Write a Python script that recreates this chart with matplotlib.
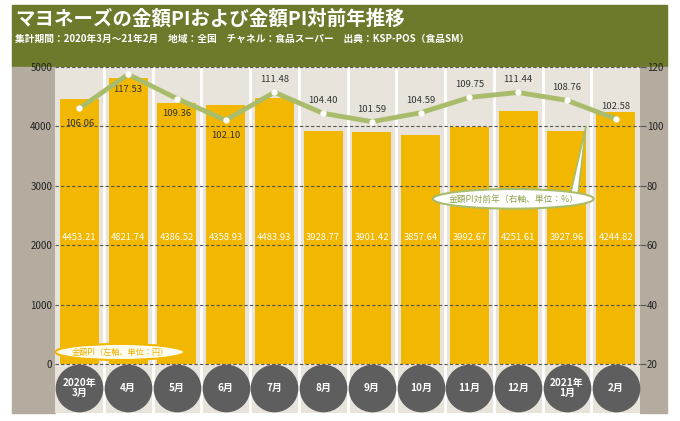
import matplotlib.pyplot as plt
from matplotlib.patches import Rectangle, Ellipse

plt.rcParams['font.family'] = ['Noto Sans CJK JP', 'DejaVu Sans']

# data
months = ['2020年\n3月', '4月', '5月', '6月', '7月', '8月', '9月',
          '10月', '11月', '12月', '2021年\n1月', '2月']
amount_pi = [4453.21, 4821.74, 4386.52, 4358.93, 4483.93, 3928.77,
             3901.42, 3857.64, 3992.67, 4251.61, 3927.96, 4244.82]
yoy = [106.06, 117.53, 109.36, 102.10, 111.48, 104.40,
       101.59, 104.59, 109.75, 111.44, 108.76, 102.58]
left_ticks = [0, 1000, 2000, 3000, 4000, 5000]
right_ticks = [20, 40, 60, 80, 100, 120]
label_side = [-1, -1, -1, -1, 1, 1, 1, 1, 1, 1, 1, 1]

W, H = 680, 421
fig = plt.figure(figsize=(W / 100, H / 100), dpi=100)


def box(x0, y0, x1, y1):
    return [x0 / W, 1 - y1 / H, (x1 - x0) / W, (y1 - y0) / H]


def rect(x0, y0, x1, y1, color):
    l, b, w, h = box(x0, y0, x1, y1)
    fig.add_artist(Rectangle((l, b), w, h, transform=fig.transFigure,
                             color=color, zorder=0))


# header band and side strips
rect(12, 5, 667, 67, '#6d7a2c')
rect(12, 67, 55, 413, '#b4ac9e')
rect(640, 67, 667, 413, '#b4ac9e')

fig.text(15 / W, 1 - 19 / H, 'マヨネーズの金額PIおよび金額PI対前年推移',
         color='white', fontsize=14, fontweight='bold', va='center')
fig.text(15 / W, 1 - 39 / H,
         '集計期間：2020年3月～21年2月　地域：全国　チャネル：食品スーパー　出典：KSP-POS（食品SM）',
         color='white', fontsize=7, fontweight='bold', va='center')

ax = fig.add_axes(box(55, 67, 640, 413))
x = list(range(len(months)))
ax.set_xlim(-0.5, 11.5)
ax.set_ylim(-825, 5000)
ax.set_facecolor('#e8e4dc')
for s in ax.spines.values():
    s.set_visible(False)
ax.set_xticks([])
ax.set_yticks(left_ticks)
ax.tick_params(axis='y', length=0, pad=2, labelsize=7, labelcolor='#222222')

for i in range(11):
    ax.axvline(i + 0.5, color='white', lw=2, zorder=1)

ax.bar(x, amount_pi, width=0.8, color='#f2b700', zorder=2)
for t in left_ticks:
    ax.axhline(t, color='#555555', lw=0.8, ls=(0, (3, 2)), zorder=3)

for i, v in enumerate(amount_pi):
    ax.text(i, 2130, f'{v:.2f}', ha='center', va='center', color='white',
            fontsize=6.8, zorder=4)

ax.scatter(x, [-404] * len(x), s=1180, color='#5e5e5e', clip_on=False,
           zorder=4, linewidths=0)
for i, m in enumerate(months):
    ax.text(i, -404, m, ha='center', va='center', color='white',
            fontsize=7.2, fontweight='bold', linespacing=0.95, zorder=5)

# callout for the line (right axis)
ax.annotate('', xy=(10.39, 4000), xytext=(10.15, 2850), zorder=6,
            arrowprops=dict(arrowstyle='wedge,tail_width=0.55,shrink_factor=0.5',
                            fc='white', ec='#a9bc6c', lw=1.2,
                            shrinkA=0, shrinkB=0))
ax.add_patch(Ellipse((8.9, 2780), 3.3, 330, fc='white', ec='#a9bc6c',
                     lw=1.5, zorder=7))
ax.text(8.9, 2780, '金額PI対前年（右軸、単位：%）', ha='center', va='center',
        color='#8ea34a', fontsize=6.3, zorder=8)

# callout for the bars (left axis)
ax.add_patch(Ellipse((0.83, 202), 2.65, 270, fc='#fffdf0', ec='#f2b700',
                     lw=1.5, zorder=7))
ax.text(0.83, 202, '金額PI（左軸、単位：円）', ha='center', va='center',
        color='#e9b100', fontsize=5.9, zorder=8)

ax2 = ax.twinx()
ax2.set_ylim(20 - 825 / 50, 120)
ax2.patch.set_visible(False)
for s in ax2.spines.values():
    s.set_visible(False)
ax2.set_yticks(right_ticks)
ax2.tick_params(axis='y', length=4, width=0.8, color='#555555', pad=1,
                labelsize=7, labelcolor='#222222')
ax2.plot(x, yoy, color='#a9bc6c', lw=3.5, marker='o', ms=3.5,
         mfc='white', mec='white', zorder=5)
for i, v in enumerate(yoy):
    dy = 9 if label_side[i] > 0 else -11
    ax2.annotate(f'{v:.2f}', (i, v), xytext=(0, dy),
                 textcoords='offset points', ha='center', va='center',
                 color='#333333', fontsize=6.8)

fig.savefig('out.png', dpi=100)
